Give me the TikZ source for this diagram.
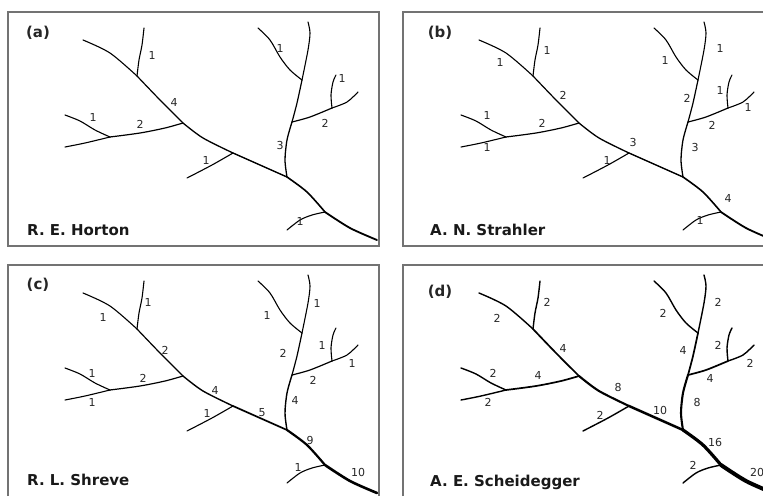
\documentclass[tikz,border=0pt]{standalone}
\usepackage{fontspec}
\setmainfont{DejaVu Sans}
\usepackage{tikz}
\tikzset{
	ordertext/.style={
			font=\fontsize{11}{13}\selectfont,
			text=black!85,
			inner sep=0pt
		},
	panelname/.style={
			font=\fontsize{15}{18}\selectfont\bfseries,
			text=black!85,
			inner sep=0pt
		},
	authortext/.style={
			font=\fontsize{15}{18}\selectfont\bfseries,
			text=black!90,
			anchor=west,
			inner sep=0pt
		},
	framepen/.style={
			draw=black!55,
			line width=1.3pt
		},
	riverpen/.style={
			draw=black,
			line cap=round,
			line join=round
		}
}
\tikzset{
	thinstreams/.style={
			magone/.style={riverpen, line width=1.1pt},
			magtwo/.style={riverpen, line width=1.2pt},
			magfour/.style={riverpen, line width=1.3pt},
			magfive/.style={riverpen, line width=1.4pt},
			magnine/.style={riverpen, line width=1.6pt},
			magten/.style={riverpen, line width=1.8pt}
		},
	mediumstreams/.style={
			magone/.style={riverpen, line width=1.1pt},
			magtwo/.style={riverpen, line width=1.2pt},
			magfour/.style={riverpen, line width=1.4pt},
			magfive/.style={riverpen, line width=1.7pt},
			magnine/.style={riverpen, line width=2.2pt},
			magten/.style={riverpen, line width=2.6pt}
		},
	thickstreams/.style={
			magone/.style={riverpen, line width=1.4pt},
			magtwo/.style={riverpen, line width=1.7pt},
			magfour/.style={riverpen, line width=2.1pt},
			magfive/.style={riverpen, line width=2.5pt},
			magnine/.style={riverpen, line width=3.2pt},
			magten/.style={riverpen, line width=4pt}
		}
}
% the same stream network is drawn in every panel
\newcommand{\drainnet}{%
	% main stem
	\draw[magone] plot[smooth] coordinates {(83,40) (110,53) (137,76)};
	\draw[magtwo] plot[smooth] coordinates {(137,76) (160,100) (183,123)};
	\draw[magfour] plot[smooth] coordinates {(183,123) (203,138) (233,153)};
	\draw[magfive] plot[smooth] coordinates {(233,153) (260,165) (287,177)};
	\draw[magnine] plot[smooth] coordinates {(287,177) (307,192) (325,212)};
	\draw[magten] plot[smooth] coordinates {(325,212) (350,228) (377,240)};
	% upper branch
	\draw[magone] plot[smooth] coordinates {(137,76) (139,60) (142,45) (144,28)};
	% left tributary
	\draw[magone] plot[smooth] coordinates {(65,147) (85,143) (110,137)};
	\draw[magone] plot[smooth] coordinates {(65,115) (80,121) (95,130) (110,137)};
	\draw[magtwo] plot[smooth] coordinates {(110,137) (140,133) (165,128) (183,123)};
	% short tributary
	\draw[magone] plot[smooth] coordinates {(187,178) (212,165) (233,153)};
	% right stream
	\draw[magone] plot[smooth] coordinates {(258,28) (270,40) (280,57) (290,70) (302,80)};
	\draw[magone] plot[smooth] coordinates {(308,22) (310,33) (308,50) (302,80)};
	\draw[magtwo] plot[smooth] coordinates {(302,80) (297,103) (292,122)};
	\draw[magone] plot[smooth] coordinates {(336,75) (333,82) (331,95) (332,108)};
	\draw[magone] plot[smooth] coordinates {(358,92) (347,102) (332,108)};
	\draw[magtwo] plot[smooth] coordinates {(332,108) (310,117) (292,122)};
	\draw[magfour] plot[smooth] coordinates {(292,122) (287,140) (285,160) (287,177)};
	% lower tributary
	\draw[magone] plot[smooth] coordinates {(287,230) (300,220) (312,215) (325,212)};
}

\begin{document}
\begin{tikzpicture}[x=1pt, y=-1pt]
	\useasboundingbox (0,0) rectangle (763,496);

	% frames
	\draw[framepen] (8,12) rectangle (379,246);
	\draw[framepen] (763,12) -- (403,12) -- (403,246) -- (763,246);
	\draw[framepen] (8,496) -- (8,265) -- (379,265) -- (379,496);
	\draw[framepen] (403,496) -- (403,265) -- (763,265);

	% networks
	\begin{scope}[thinstreams]
		\drainnet
	\end{scope}
	\begin{scope}[shift={(396,0)}, thinstreams]
		\drainnet
	\end{scope}
	\begin{scope}[shift={(0,253)}, mediumstreams]
		\drainnet
	\end{scope}
	\begin{scope}[shift={(396,253)}, thickstreams]
		\drainnet
	\end{scope}

	% (a) Horton
	\node[panelname] (pa) at (38,33) {(a)};
	\node[ordertext] (a1) at (152,55) {1};
	\node[ordertext] (a2) at (174,102) {4};
	\node[ordertext] (a3) at (93,117) {1};
	\node[ordertext] (a4) at (140,124) {2};
	\node[ordertext] (a5) at (206,160) {1};
	\node[ordertext] (a6) at (280,145) {3};
	\node[ordertext] (a7) at (280,48) {1};
	\node[ordertext] (a8) at (342,78) {1};
	\node[ordertext] (a9) at (325,123) {2};
	\node[ordertext] (a10) at (300,221) {1};
	\node[authortext] (na) at (27,230) {R. E. Horton};

	% (b) Strahler
	\node[panelname] (pb) at (440,33) {(b)};
	\node[ordertext] (b1) at (500,62) {1};
	\node[ordertext] (b2) at (547,50) {1};
	\node[ordertext] (b3) at (563,95) {2};
	\node[ordertext] (b4) at (487,115) {1};
	\node[ordertext] (b5) at (542,123) {2};
	\node[ordertext] (b6) at (487,147) {1};
	\node[ordertext] (b7) at (607,160) {1};
	\node[ordertext] (b8) at (633,142) {3};
	\node[ordertext] (b9) at (665,60) {1};
	\node[ordertext] (b10) at (720,48) {1};
	\node[ordertext] (b11) at (687,98) {2};
	\node[ordertext] (b12) at (720,90) {1};
	\node[ordertext] (b13) at (712,125) {2};
	\node[ordertext] (b14) at (748,107) {1};
	\node[ordertext] (b15) at (695,147) {3};
	\node[ordertext] (b16) at (728,198) {4};
	\node[ordertext] (b17) at (700,220) {1};
	\node[authortext] (nb) at (430,230) {A. N. Strahler};

	% (c) Shreve
	\node[panelname] (pc) at (38,285) {(c)};
	\node[ordertext] (c1) at (103,317) {1};
	\node[ordertext] (c2) at (148,302) {1};
	\node[ordertext] (c3) at (165,350) {2};
	\node[ordertext] (c4) at (92,373) {1};
	\node[ordertext] (c5) at (143,378) {2};
	\node[ordertext] (c6) at (92,402) {1};
	\node[ordertext] (c7) at (215,390) {4};
	\node[ordertext] (c8) at (207,413) {1};
	\node[ordertext] (c9) at (262,413) {5};
	\node[ordertext] (c10) at (267,315) {1};
	\node[ordertext] (c11) at (317,303) {1};
	\node[ordertext] (c12) at (283,353) {2};
	\node[ordertext] (c13) at (322,345) {1};
	\node[ordertext] (c14) at (352,363) {1};
	\node[ordertext] (c15) at (313,380) {2};
	\node[ordertext] (c16) at (295,400) {4};
	\node[ordertext] (c17) at (310,440) {9};
	\node[ordertext] (c18) at (298,467) {1};
	\node[ordertext] (c19) at (358,472) {10};
	\node[authortext] (nc) at (27,480) {R. L. Shreve};

	% (d) Scheidegger
	\node[panelname] (pd) at (440,292) {(d)};
	\node[ordertext] (d1) at (497,318) {2};
	\node[ordertext] (d2) at (547,302) {2};
	\node[ordertext] (d3) at (563,348) {4};
	\node[ordertext] (d4) at (493,373) {2};
	\node[ordertext] (d5) at (538,375) {4};
	\node[ordertext] (d6) at (488,402) {2};
	\node[ordertext] (d7) at (618,387) {8};
	\node[ordertext] (d8) at (600,415) {2};
	\node[ordertext] (d9) at (660,410) {10};
	\node[ordertext] (d10) at (663,313) {2};
	\node[ordertext] (d11) at (718,302) {2};
	\node[ordertext] (d12) at (683,350) {4};
	\node[ordertext] (d13) at (718,345) {2};
	\node[ordertext] (d14) at (750,363) {2};
	\node[ordertext] (d15) at (710,378) {4};
	\node[ordertext] (d16) at (697,402) {8};
	\node[ordertext] (d17) at (715,442) {16};
	\node[ordertext] (d18) at (693,465) {2};
	\node[ordertext] (d19) at (757,472) {20};
	\node[authortext] (nd) at (430,482) {A. E. Scheidegger};
\end{tikzpicture}
\end{document}
